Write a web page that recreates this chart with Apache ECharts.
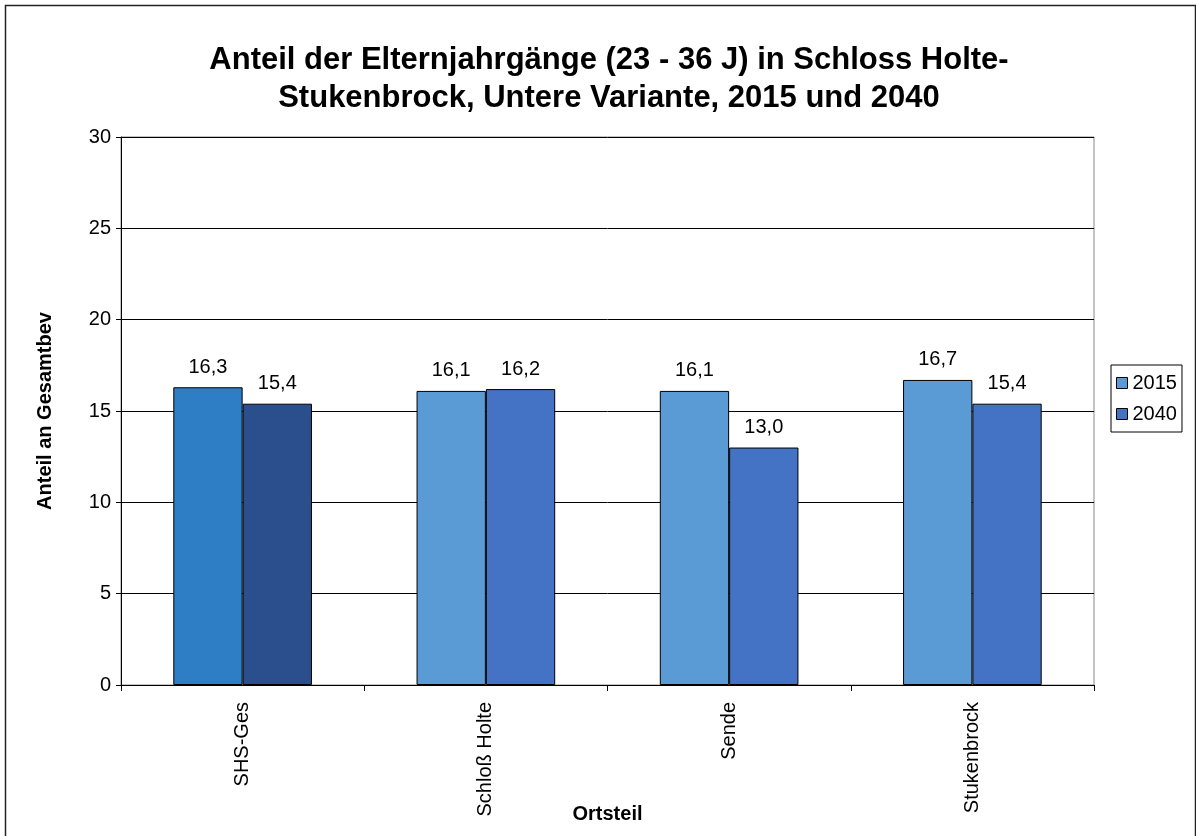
<!DOCTYPE html>
<html><head><meta charset="utf-8">
<script src="https://cdn.jsdelivr.net/npm/echarts@6/dist/echarts.min.js"></script>
<style>html,body{margin:0;padding:0;background:#fff}#c{width:1196px;height:836px}</style>
</head><body><div id="c"></div>
<script>
const categories = ['SHS-Ges', 'Schloß Holte', 'Sende', 'Stukenbrock'];
const values2015 = [16.3, 16.1, 16.1, 16.7];
const values2040 = [15.4, 16.2, 13.0, 15.4];
const seriesNames = ['2015', '2040'];
const yTicks = [0, 5, 10, 15, 20, 25, 30];

const font = 'Liberation Sans, Arial, sans-serif';
const c2015 = '#5b9bd5', c2040 = '#4472c4';
const special = ['#2e7ec6', '#2b4f8c'];

function mk(vals, idx) {
  return vals.map((v, i) => i === 0 ? { value: v, itemStyle: { color: special[idx] } } : v);
}
const lbl = { show: true, position: 'top', distance: 10, fontFamily: font, fontSize: 20, color: '#000', formatter: p => p.value.toFixed(1).replace('.', ',') };
const chart = echarts.init(document.getElementById('c'));
chart.setOption({
  animation: false,
  backgroundColor: '#fff',
  graphic: [{ type: 'rect', shape: { x: 5.5, y: 5.5, width: 1190, height: 840 }, style: { fill: 'none', stroke: '#222', lineWidth: 1.5 }, silent: true }],
  title: {
    text: 'Anteil der Elternjahrgänge (23 - 36 J) in Schloss Holte-\nStukenbrock, Untere Variante, 2015 und 2040',
    left: 604, top: 36, textAlign: 'center',
    textStyle: { fontFamily: font, fontSize: 31, fontWeight: 'bold', color: '#000', lineHeight: 38 }
  },
  legend: {
    orient: 'vertical', left: 1111, top: 365, itemWidth: 11, itemHeight: 11, itemGap: 11, icon: 'rect',
    padding: [8, 5, 8, 5], borderColor: '#000', borderWidth: 1,
    textStyle: { fontFamily: font, fontSize: 20, color: '#000' },
    data: seriesNames.map(n => ({ name: n, itemStyle: { borderColor: '#000', borderWidth: 1 } }))
  },
  grid: { left: 121, right: 102, top: 137, bottom: 151, show: true, borderColor: '#888', borderWidth: 1, containLabel: false, outerBoundsMode: 'none' },
  xAxis: {
    type: 'category', data: categories,
    name: 'Ortsteil', nameLocation: 'middle', nameGap: 119, nameMoveOverlap: false,
    nameTextStyle: { fontFamily: font, fontSize: 20, fontWeight: 'bold', color: '#000' },
    axisLine: { lineStyle: { color: '#000', width: 1 } },
    axisTick: { show: true, length: 6, lineStyle: { color: '#000' } },
    axisLabel: { rotate: 90, margin: 17, fontFamily: font, fontSize: 20, color: '#000' }
  },
  yAxis: {
    type: 'value', min: 0, max: 30, interval: 5,
    name: 'Anteil an Gesamtbev', nameLocation: 'middle', nameGap: 66, nameMoveOverlap: false,
    nameTextStyle: { fontFamily: font, fontSize: 20, fontWeight: 'bold', color: '#000' },
    axisLine: { show: true, lineStyle: { color: '#000' } },
    axisTick: { show: true, length: 5, lineStyle: { color: '#000' } },
    axisLabel: { margin: 10, fontFamily: font, fontSize: 20, color: '#000', formatter: v => yTicks.includes(v) ? String(v) : '' },
    splitLine: { lineStyle: { color: '#000', width: 1 } }
  },
  series: [
    { name: seriesNames[0], type: 'bar', data: mk(values2015, 0), barGap: '0%', barCategoryGap: '43%',
      itemStyle: { color: c2015, borderColor: '#000', borderWidth: 1 }, label: lbl },
    { name: seriesNames[1], type: 'bar', data: mk(values2040, 1), barGap: '0%', barCategoryGap: '43%',
      itemStyle: { color: c2040, borderColor: '#000', borderWidth: 1 }, label: lbl }
  ]
});
</script></body></html>
